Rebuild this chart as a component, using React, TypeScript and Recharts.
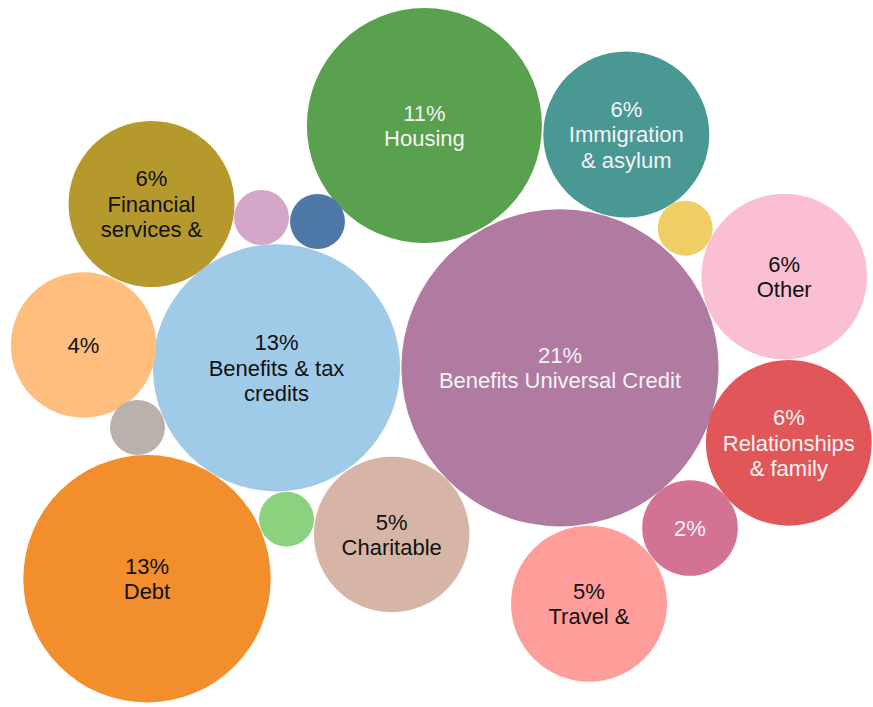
import React from "react";
import { ScatterChart, Scatter, XAxis, YAxis, ZAxis, Cell } from "recharts";

// Bubble centres in the layout's data space, and bubble shares (area-proportional)
const categories = [
  "Housing",
  "Immigration\n& asylum",
  "Financial\nservices &",
  "",
  "",
  "",
  "Other",
  "Benefits Universal Credit",
  "Benefits & tax\ncredits",
  "",
  "",
  "Debt",
  "",
  "Charitable",
  "Relationships\n& family",
  "",
  "Travel &",
];
const pctLabels = [
  "11%", "6%", "6%", "", "", "", "6%", "21%", "13%", "4%", "", "13%", "", "5%", "6%", "2%", "5%",
];
const shares = [
  11.53, 5.75, 5.75, 0.63, 0.63, 0.63, 5.72, 21.0, 12.75, 4.41, 0.63, 12.77, 0.63, 5.05, 5.74, 1.91, 5.08,
];
const xValues = [
  424.4, 626.3, 151.5, 261.5, 317.5, 685.2, 784.2, 560.0, 276.5, 83.5, 137.5, 147.0, 286.5, 391.7, 788.8, 690.0, 589.0,
];
const yValues = [
  125.5, 134.5, 204.0, 217.5, 221.5, 228.2, 276.5, 367.8, 367.8, 345.0, 427.5, 578.8, 519.2, 534.5, 442.8, 528.0, 603.7,
];

const COLORS = [
  "#59a14f", "#499894", "#b6992d", "#d4a6c8", "#4e79a7", "#f1ce63", "#fabfd2", "#b07aa1", "#a0cbe8",
  "#ffbe7d", "#bab0ac", "#f28e2b", "#8cd17d", "#d7b5a6", "#e15759", "#d37295", "#ff9d9a",
];
const TEXT_COLORS = [
  "#f4f4f4", "#f4f4f4", "#111111", "#111111", "#111111", "#111111", "#111111", "#f4f4f4", "#111111",
  "#111111", "#111111", "#111111", "#111111", "#111111", "#f4f4f4", "#f4f4f4", "#111111",
];

const data = categories.map((c, i) => ({
  name: c,
  pct: pctLabels[i],
  x: xValues[i],
  y: yValues[i],
  z: shares[i],
  idx: i,
}));

const MAX_R = 158.6;

const Bubble = (props: any) => {
  const { cx, cy, width, fill, payload } = props;
  const r = width / 2;
  const lines: string[] = [];
  if (payload.pct) lines.push(payload.pct);
  if (payload.name) payload.name.split("\n").forEach((l: string) => lines.push(l));
  const L = 25.5;
  const n = lines.length;
  return (
    <g>
      <circle cx={cx} cy={cy} r={r} fill={fill} />
      {lines.map((ln, i) => (
        <text
          key={i}
          x={cx}
          y={cy + (i - (n - 1) / 2) * L}
          dy="0.36em"
          textAnchor="middle"
          fontFamily="'Liberation Sans', Arial, sans-serif"
          fontSize={22}
          fill={TEXT_COLORS[payload.idx]}
        >
          {ln}
        </text>
      ))}
    </g>
  );
};

export default function App() {
  return (
    <div style={{ position: "absolute", left: 0, top: 0, width: 873, height: 707, background: "#fff" }}>
      <ScatterChart width={873} height={707} margin={{ top: 0, right: 0, bottom: 0, left: 0 }}>
        <XAxis type="number" dataKey="x" domain={[0, 873]} hide />
        <YAxis type="number" dataKey="y" domain={[0, 707]} reversed hide />
        <ZAxis type="number" dataKey="z" domain={[0, 21]} range={[0, Math.PI * MAX_R * MAX_R]} />
        <Scatter data={data} shape={Bubble} isAnimationActive={false}>
          {data.map((d, i) => (
            <Cell key={i} fill={COLORS[i]} />
          ))}
        </Scatter>
      </ScatterChart>
    </div>
  );
}
